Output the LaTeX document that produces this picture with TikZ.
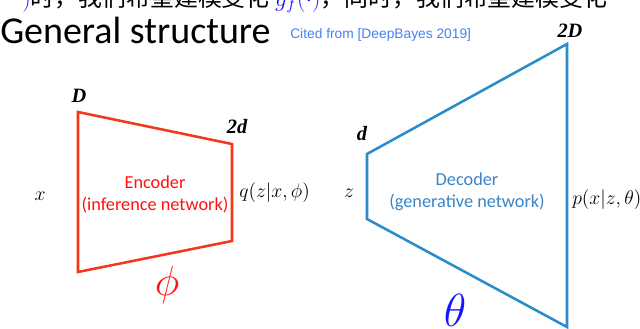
\RequirePackage{fix-cm}
\documentclass[tikz,border=0pt]{standalone}
\usepackage{fontspec}
\setmainfont{Carlito}
\newfontfamily\cjkfont{Noto Sans CJK SC}
\newfontfamily\citefont{Liberation Sans}
\newfontfamily\dimfont{Liberation Serif}
\usetikzlibrary{positioning}
\definecolor{EncRed}{HTML}{F2371B}
\definecolor{EncText}{HTML}{FF1111}
\definecolor{DecBlue}{HTML}{2B8CCB}
\definecolor{DecText}{HTML}{3A86C5}
\definecolor{CiteBlue}{HTML}{4682F0}
\definecolor{PureBlue}{HTML}{1414FF}
\definecolor{PureRed}{HTML}{FF1414}

\begin{document}
\begin{tikzpicture}[x=0.025cm,y=-0.025cm,inner sep=0pt,
    dimlabel/.style={font=\dimfont\bfseries\itshape\fontsize{14.5}{16}\selectfont},
    mathlabel/.style={font=\fontsize{14}{16}\selectfont},
    netlabel/.style={align=center,font=\fontsize{13}{15.6}\selectfont},
    param/.style={font=\fontsize{30}{32}\selectfont},
    netline/.style={line width=1.8pt,line join=miter}]
    \fill[white] (0,0) rectangle (640,329);
    \clip (0,0) rectangle (640,329);
    % cut-off line of the previous slide text
    \node[anchor=base west,font=\cjkfont\fontsize{17}{17}\selectfont] (topline) at (22,6)
      {\textcolor{PureBlue}{$)$}时，我们希望建模变化\ \textcolor{PureBlue}{$g_f(\cdot)$}，同时，我们希望建模变化};
    \node[anchor=base west,font=\fontsize{27}{29}\selectfont] (title) at (0,43) {General structure};
    \node[anchor=base west,text=CiteBlue,font=\citefont\fontsize{9.8}{12}\selectfont] (cite) at (290,38) {Cited from [DeepBayes 2019]};

    % encoder
    \coordinate (enc-tl) at (78,112);
    \coordinate (enc-tr) at (232,144);
    \coordinate (enc-br) at (232,241);
    \coordinate (enc-bl) at (78,272);
    \draw[netline,EncRed] (enc-tl) -- (enc-tr) -- (enc-br) -- (enc-bl) -- cycle;
    \node[dimlabel] (encin) at (79,96) {D};
    \node[dimlabel] (encout) at (237,127) {2d};
    \node[mathlabel] (xin) at (40,196) {$x$};
    \node[mathlabel,anchor=west] (qout) at (239,193) {$q(z|x,\phi)$};
    \node[netlabel,text=EncText] (encoder) at (155,194) {Encoder\\(inference network)};
    \node[param,text=PureRed] (phi) at (167,285) {$\phi$};

    % decoder
    \coordinate (dec-tl) at (367,154);
    \coordinate (dec-tr) at (567,44);
    \coordinate (dec-br) at (567,327);
    \coordinate (dec-bl) at (367,219);
    \draw[netline,DecBlue] (dec-tl) -- (dec-tr) -- (dec-br) -- (dec-bl) -- cycle;
    \node[dimlabel] (decin) at (362,134) {d};
    \node[dimlabel] (decout) at (570,31) {2D};
    \node[mathlabel] (zin) at (349,193) {$z$};
    \node[mathlabel,anchor=west] (pout) at (572,200) {$p(x|z,\theta)$};
    \node[netlabel,text=DecText] (decoder) at (467,192) {Decoder\\(generative network)};
    \node[param,text=PureBlue,font=\fontsize{33}{35}\selectfont] (theta) at (455,310) {$\theta$};
\end{tikzpicture}
\end{document}
